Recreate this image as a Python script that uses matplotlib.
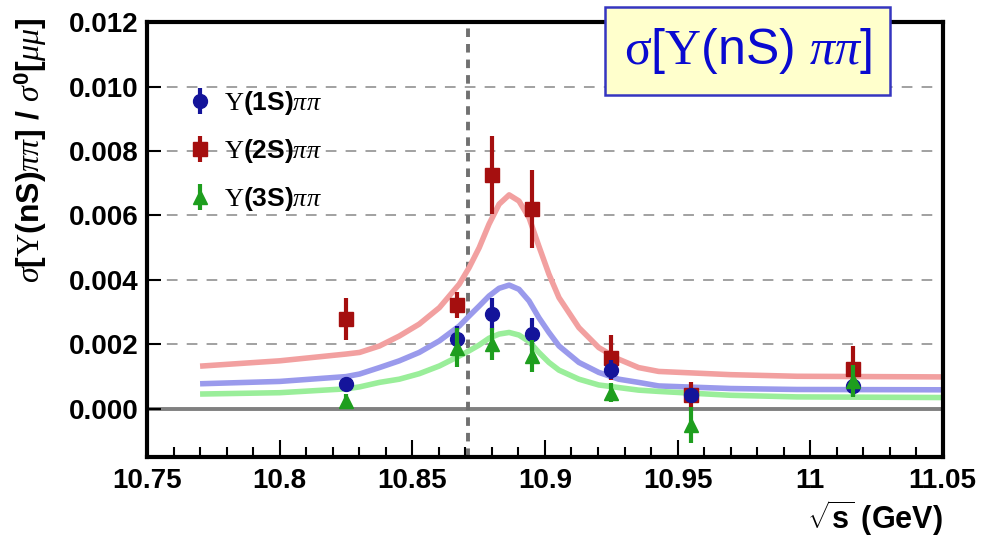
import matplotlib
matplotlib.use("Agg")
import matplotlib.pyplot as plt
from matplotlib.ticker import MultipleLocator

plt.rcParams['mathtext.fontset'] = 'custom'
plt.rcParams['mathtext.rm'] = 'Liberation Serif'
plt.rcParams['mathtext.it'] = 'Liberation Serif:italic'
plt.rcParams['mathtext.bf'] = 'Liberation Sans:bold'
plt.rcParams['mathtext.sf'] = 'Liberation Sans'
plt.rcParams['font.family'] = ['Liberation Sans', 'DejaVu Sans']

# ---- data points ----
x_pts = [10.825, 10.867, 10.880, 10.895, 10.925, 10.955, 11.016]
y1s = [0.00078, 0.00218, 0.00294, 0.00232, 0.00122, 0.00042, 0.00070]
e1s = [0.00015, 0.0004, 0.0005, 0.0005, 0.0003, 0.0002, 0.0003]
y2s = [0.00279, 0.00322, 0.00726, 0.0062, 0.00158, 0.00043, 0.00124]
e2s = [0.00065, 0.0004, 0.0012, 0.0012, 0.0007, 0.0004, 0.0007]
y3s = [0.00025, 0.0019, 0.0020, 0.00164, 0.0005, -0.0005, 0.00087]
e3s = [0.0002, 0.0006, 0.0005, 0.0005, 0.0003, 0.00055, 0.0005]

# ---- fit curves ----
curve_x = [10.771, 10.80, 10.825, 10.8301, 10.8376, 10.8451, 10.8526, 10.8602, 10.8677,
           10.8714, 10.8752, 10.8789, 10.8827, 10.8865, 10.8902, 10.894, 10.8977, 10.9015,
           10.9053, 10.9128, 10.9203, 10.9278, 10.9353, 10.9429, 10.97, 10.995, 11.05]
curve_2s = [0.00133, 0.00149, 0.0017, 0.00175, 0.00195, 0.00226, 0.00263, 0.00314, 0.00387,
            0.00438, 0.0050, 0.00573, 0.00635, 0.00664, 0.00645, 0.00593, 0.00505, 0.00418,
            0.00345, 0.00252, 0.0019, 0.00154, 0.00128, 0.00116, 0.00106, 0.00101, 0.00099]
curve_1s = [0.00078, 0.00085, 0.0010, 0.00108, 0.00128, 0.00149, 0.00175, 0.00211, 0.00257,
            0.00288, 0.00319, 0.0035, 0.00374, 0.00384, 0.00371, 0.00335, 0.00283, 0.00237,
            0.00195, 0.00144, 0.00113, 0.00092, 0.00082, 0.00071, 0.00063, 0.0006, 0.00059]
curve_3s = [0.00046, 0.0005, 0.00062, 0.00068, 0.00082, 0.00092, 0.00109, 0.00133, 0.00164,
            0.0018, 0.00198, 0.00219, 0.00232, 0.00237, 0.00229, 0.00209, 0.00175, 0.00144,
            0.0012, 0.00092, 0.00074, 0.00066, 0.00058, 0.00054, 0.00042, 0.00037, 0.00035]

vline_x = 10.871
xticks = [10.75, 10.8, 10.85, 10.9, 10.95, 11.0, 11.05]
xtick_labels = ['10.75', '10.8', '10.85', '10.9', '10.95', '11', '11.05']
yticks = [0.0, 0.002, 0.004, 0.006, 0.008, 0.010, 0.012]
ytick_labels = ['0.000', '0.002', '0.004', '0.006', '0.008', '0.010', '0.012']
legend_labels = [r'$\Upsilon$(1S)$\pi\pi$', r'$\Upsilon$(2S)$\pi\pi$', r'$\Upsilon$(3S)$\pi\pi$']

fig = plt.figure(figsize=(9.81, 5.41), dpi=100)
ax = fig.add_axes([0.150, 0.155, 0.811, 0.804])
ax.set_xlim(10.75, 11.05)
ax.set_ylim(-0.0015, 0.012)

# grid
for yv in yticks[1:-1]:
    ax.axhline(yv, color='#888888', lw=1.1, ls=(0, (7, 6)), zorder=1)
ax.axhline(0.0, color='#808080', lw=2.8, zorder=1)
ax.axvline(vline_x, color='#707070', lw=2.8, ls=(0, (2.2, 1.8)), zorder=1)

# curves
ax.plot(curve_x, curve_2s, color='#f2a0a0', lw=4, zorder=2, solid_joinstyle='round')
ax.plot(curve_x, curve_1s, color='#9a9aec', lw=4, zorder=2, solid_joinstyle='round')
ax.plot(curve_x, curve_3s, color='#9aee9a', lw=4, zorder=2, solid_joinstyle='round')

c2, c1, c3 = '#a50f0f', '#14149a', '#1e9e1e'
h2 = ax.errorbar(x_pts, y2s, yerr=e2s, fmt='s', color=c2, ms=10, elinewidth=3, capsize=0, zorder=3)
h1 = ax.errorbar(x_pts, y1s, yerr=e1s, fmt='o', color=c1, ms=10, elinewidth=3, capsize=0, zorder=4)
h3 = ax.errorbar(x_pts, y3s, yerr=e3s, fmt='^', color=c3, ms=10, elinewidth=3, capsize=0, zorder=5)

leg = ax.legend([h1, h2, h3], legend_labels, loc='upper left', bbox_to_anchor=(0.02, 0.9),
                frameon=False, labelspacing=0.75, handlelength=1.0,
                handletextpad=0.4, prop={'weight': 'bold', 'size': 19})

# axes styling
for s in ax.spines.values():
    s.set_linewidth(3)
    s.set_color('black')
ax.set_xticks(xticks)
ax.set_xticklabels(xtick_labels)
ax.set_yticks(yticks)
ax.set_yticklabels(ytick_labels)
ax.xaxis.set_minor_locator(MultipleLocator(0.01))
ax.tick_params(axis='x', which='major', direction='in', length=12, width=1.5, top=False, pad=8)
ax.tick_params(axis='x', which='minor', direction='in', length=7, width=1.5, top=False)
ax.tick_params(axis='y', which='major', direction='in', length=10, width=1.5, right=False, pad=6)
for lab in ax.get_xticklabels() + ax.get_yticklabels():
    lab.set_fontsize(20)
    lab.set_fontweight('bold')

ax.set_ylabel(r'$\sigma$[$\Upsilon$(nS)$\pi\pi$] / $\sigma^{\mathbf{0}}$[$\mu\mu$]',
              fontsize=23, fontweight='bold')
ax.yaxis.set_label_coords(-0.147, 1.01)
ax.yaxis.label.set_ha('right')
ax.yaxis.label.set_va('center')
ax.set_xlabel(r'$\sqrt{\mathbf{s}}$ (GeV)', fontsize=22, fontweight='bold')
ax.xaxis.set_label_coords(1.0, -0.095)
ax.xaxis.label.set_ha('right')
ax.xaxis.label.set_va('top')

fig.text(0.762, 0.906, r'$\mathrm{\sigma}$[$\Upsilon$(nS) $\pi\pi$]', fontsize=36,
         color='#0a0ad0', family=['Liberation Sans'], ha='center', va='center', zorder=10,
         bbox=dict(boxstyle='square,pad=0.38', facecolor='#ffffcc', edgecolor='#3535c0', lw=1.8))

fig.savefig('out.png', dpi=100)
